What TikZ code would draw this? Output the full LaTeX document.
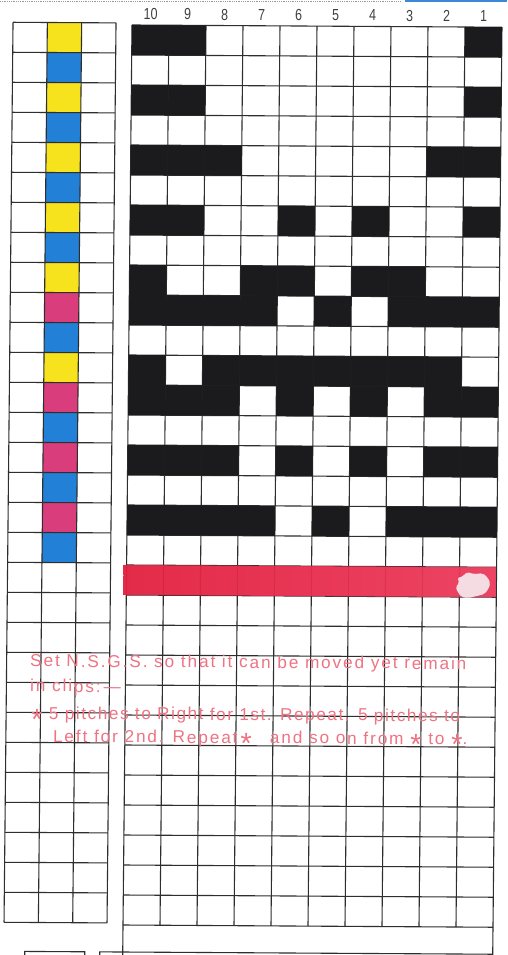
\documentclass[tikz,border=0pt]{standalone}
\usepackage{fontspec}
\setmainfont{Liberation Sans}
\newfontfamily\notefont[LetterSpace=11]{Liberation Sans}
\newfontfamily\notefontb[LetterSpace=9]{Liberation Sans}
\newfontfamily\numfont{Liberation Sans}
\definecolor{gridc}{HTML}{2E2E2E}
\definecolor{blk}{HTML}{1B1B1D}
\definecolor{colY}{HTML}{F6E31E}
\definecolor{colB}{HTML}{2280D6}
\definecolor{colM}{HTML}{DA3D7C}
\definecolor{bandL}{HTML}{E2203F}
\definecolor{bandR}{HTML}{EC3A5C}
\definecolor{notec}{HTML}{EE7383}
\definecolor{smudge}{HTML}{F5DCE2}
\definecolor{topblue}{HTML}{3D86D8}
\newcommand{\stark}{\raisebox{-0.6em}{\scalebox{1.7}{*}}}
\tikzset{
  gl/.style={draw=gridc, line width=1.1pt},
  note/.style={text=notec, font=\notefont\fontsize{17.2}{17.2}\selectfont, inner sep=0pt, anchor=base west, transform shape},
  colnum/.style={text=black!75, font=\numfont\fontsize{16}{16}\selectfont, inner sep=0pt, transform shape, xscale=0.78}
}
\begin{document}
\begin{tikzpicture}[x=1pt,y=1pt]
\fill[white] (0,0) rectangle (507,-955);
\useasboundingbox (0,0) rectangle (507,-955);
% top edge remnants
\draw[black!40, densely dotted, line width=0.8pt] (0,-1) -- (400,-1);
\draw[topblue, line width=2.5pt] (405,-0.5) -- (507,-0.5);
\begin{scope}[shift={(132,-25)}, xslant=0.01, yslant=-0.006]
  % left grid colour column
  \foreach \r/\col in {1/colY,2/colB,3/colY,4/colB,5/colY,6/colB,7/colY,8/colB,9/colY,10/colM,11/colB,12/colY,13/colM,14/colB,15/colM,16/colB,17/colM,18/colB}
    \fill[fill=\col] (-84.667,{2-(\r-1)*30}) rectangle ++(34.333,-30);
  % left grid
  \foreach \i in {0,...,3}
    \draw[gl] ({-119+\i*34.333},2) -- ++(0,-900);
  \foreach \j in {0,...,30}
    \draw[gl] (-119,{2-\j*30}) -- (-16,{2-\j*30});
  % right grid
  \foreach \i in {0,...,10}
    \draw[gl] ({\i*37},0) -- ({\i*37},-900);
  \foreach \j in {0,...,30}
    \draw[gl] (0,{-\j*30}) -- (370,{-\j*30});
  % lower frame
  \draw[gl] (0,-900) -- (0,-935);
  \draw[gl] (370,-900) -- (370,-935);
  \draw[gl] (-23,-935) -- (-23,-927) -- (370,-927);
  \draw[gl] (-98,-935) -- (-98,-927) -- (-38,-927) -- (-38,-935);
  % black cells
  \foreach \r/\cs in {1/{1,2,10},3/{1,2,10},5/{1,2,3,9,10},7/{1,2,5,7,10},9/{1,4,5,7,8},10/{1,2,3,4,6,8,9,10},12/{1,3,4,5,6,7,8,9},13/{1,2,3,5,7,9,10},15/{1,2,3,5,7,9,10},17/{1,2,3,4,6,8,9,10}}
    \foreach \c in \cs
      \fill[blk] ({(\c-1)*37},{-(\r-1)*30}) rectangle ++(37,-30);
  % red band
  \shade[left color=bandL, right color=bandR, opacity=0.95] (-3,-540) rectangle (370,-570);
  \fill[smudge, rounded corners=2pt] (329,-560) -- (333,-556) -- (331,-551) -- (337,-549) -- (340,-545) -- (348,-547) -- (356,-546) -- (361,-550) -- (364,-556) -- (362,-562) -- (358,-567) -- (350,-569) -- (342,-571) -- (335,-570) -- (332,-566) -- cycle;
  % column numbers
  \foreach \p/\lab in {1/10,2/9,3/8,4/7,5/6,6/5,7/4,8/3,9/2,10/1}
    \node[colnum] (n\lab) at ({(\p-0.5)*37},11) {\lab};
  % red notes
  \node[note] (t1) at (-95.6,-642.3) {Set N.S.G.S. so that it can be moved yet remain};
  \node[note] (t2) at (-95.4,-667.3) {in clips:\,\textemdash};
  \node[note, font=\notefontb\fontsize{17.2}{17.2}\selectfont] (t3) at (-94,-694.5) {\stark{} 5 pitches to Right for 1st. Repeat. 5 pitches to};
  \node[note] (t4) at (-72,-717.7) {Left for 2nd. Repeat\kern3pt\stark\hspace{18pt}and so on from \stark{} to \stark.};
\end{scope}
\end{tikzpicture}
\end{document}
